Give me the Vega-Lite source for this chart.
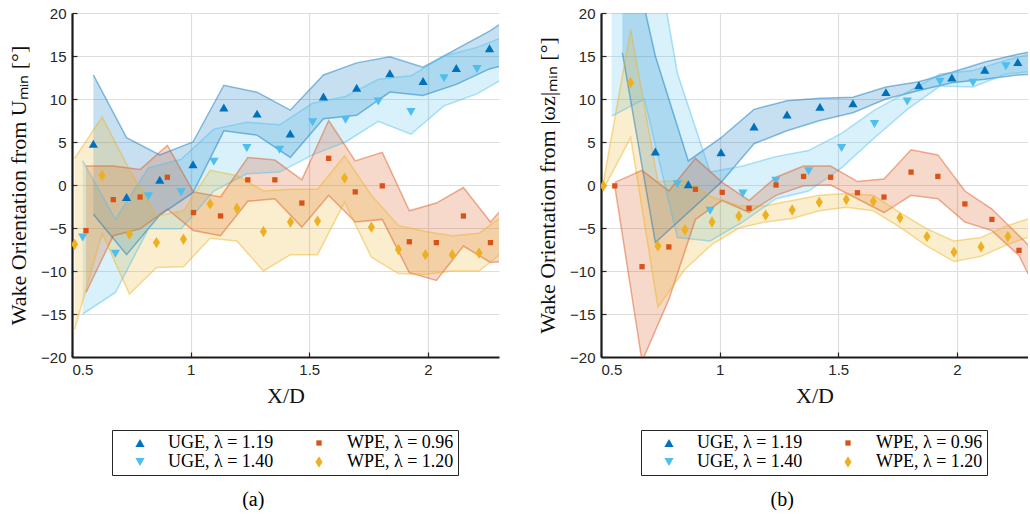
{
  "$schema": "https://vega.github.io/schema/vega-lite/v6.json",
  "padding": {"left": 7, "top": 6, "right": 0, "bottom": 0},
  "autosize": {"type": "pad"},
  "spacing": 37,
  "resolve": {"scale": {"color": "independent", "shape": "independent", "size": "independent"}, "legend": {"color": "independent", "shape": "independent", "size": "independent"}},
  "datasets": {
    "a": [
      {"s":"UGE, λ = 1.19","x":0.59,"y":4.8,"lo":-3.4,"hi":12.8},
      {"s":"UGE, λ = 1.19","x":0.73,"y":-1.4,"lo":-8.1,"hi":5.5},
      {"s":"UGE, λ = 1.19","x":0.87,"y":0.6,"lo":-3.5,"hi":3.5},
      {"s":"UGE, λ = 1.19","x":1.01,"y":2.4,"lo":-0.9,"hi":5.0},
      {"s":"UGE, λ = 1.19","x":1.14,"y":9.0,"lo":6.3,"hi":11.6},
      {"s":"UGE, λ = 1.19","x":1.28,"y":8.3,"lo":5.8,"hi":10.8},
      {"s":"UGE, λ = 1.19","x":1.42,"y":6.0,"lo":3.2,"hi":8.7},
      {"s":"UGE, λ = 1.19","x":1.56,"y":10.3,"lo":7.7,"hi":12.8},
      {"s":"UGE, λ = 1.19","x":1.70,"y":11.3,"lo":8.1,"hi":14.2},
      {"s":"UGE, λ = 1.19","x":1.84,"y":13.0,"lo":10.8,"hi":14.9},
      {"s":"UGE, λ = 1.19","x":1.98,"y":12.1,"lo":10.4,"hi":13.7},
      {"s":"UGE, λ = 1.19","x":2.12,"y":13.6,"lo":11.7,"hi":15.8},
      {"s":"UGE, λ = 1.19","x":2.26,"y":15.9,"lo":13.5,"hi":17.9},
      {"s":"UGE, λ = 1.19","x":2.40,"y":null,"lo":14.5,"hi":20.4},
      {"s":"UGE, λ = 1.40","x":0.545,"y":-6.1,"lo":-15.0,"hi":2.8},
      {"s":"UGE, λ = 1.40","x":0.683,"y":-8.0,"lo":-12.5,"hi":-4.0},
      {"s":"UGE, λ = 1.40","x":0.822,"y":-1.3,"lo":-5.1,"hi":2.0},
      {"s":"UGE, λ = 1.40","x":0.96,"y":-0.85,"lo":-5.1,"hi":3.0},
      {"s":"UGE, λ = 1.40","x":1.098,"y":2.7,"lo":-0.7,"hi":6.5},
      {"s":"UGE, λ = 1.40","x":1.237,"y":4.3,"lo":1.3,"hi":7.3},
      {"s":"UGE, λ = 1.40","x":1.375,"y":4.1,"lo":1.5,"hi":7.0},
      {"s":"UGE, λ = 1.40","x":1.514,"y":7.3,"lo":3.5,"hi":9.5},
      {"s":"UGE, λ = 1.40","x":1.653,"y":7.6,"lo":5.0,"hi":10.3},
      {"s":"UGE, λ = 1.40","x":1.791,"y":9.7,"lo":7.4,"hi":12.3},
      {"s":"UGE, λ = 1.40","x":1.929,"y":8.5,"lo":5.9,"hi":12.7},
      {"s":"UGE, λ = 1.40","x":2.068,"y":12.4,"lo":9.2,"hi":15.0},
      {"s":"UGE, λ = 1.40","x":2.207,"y":13.5,"lo":10.6,"hi":16.0},
      {"s":"UGE, λ = 1.40","x":2.345,"y":null,"lo":12.8,"hi":17.5},
      {"s":"WPE, λ = 0.96","x":0.559,"y":-5.3,"lo":-12.5,"hi":2.2},
      {"s":"WPE, λ = 0.96","x":0.674,"y":-1.7,"lo":-5.9,"hi":2.2},
      {"s":"WPE, λ = 0.96","x":0.787,"y":-1.4,"lo":-5.1,"hi":1.8},
      {"s":"WPE, λ = 0.96","x":0.902,"y":0.9,"lo":-2.8,"hi":4.6},
      {"s":"WPE, λ = 0.96","x":1.012,"y":-3.2,"lo":-5.3,"hi":-0.8},
      {"s":"WPE, λ = 0.96","x":1.126,"y":-3.6,"lo":-5.9,"hi":-1.4},
      {"s":"WPE, λ = 0.96","x":1.241,"y":0.6,"lo":-1.9,"hi":3.2},
      {"s":"WPE, λ = 0.96","x":1.355,"y":0.6,"lo":-1.6,"hi":2.9},
      {"s":"WPE, λ = 0.96","x":1.469,"y":-2.1,"lo":-4.9,"hi":0.6},
      {"s":"WPE, λ = 0.96","x":1.582,"y":3.1,"lo":-1.2,"hi":7.5},
      {"s":"WPE, λ = 0.96","x":1.694,"y":-0.8,"lo":-4.3,"hi":2.8},
      {"s":"WPE, λ = 0.96","x":1.808,"y":-0.1,"lo":-4.0,"hi":3.8},
      {"s":"WPE, λ = 0.96","x":1.922,"y":-6.6,"lo":-10.2,"hi":-3.0},
      {"s":"WPE, λ = 0.96","x":2.036,"y":-6.7,"lo":-11.1,"hi":-2.1},
      {"s":"WPE, λ = 0.96","x":2.15,"y":-3.6,"lo":-7.1,"hi":-0.3},
      {"s":"WPE, λ = 0.96","x":2.264,"y":-6.7,"lo":-9.0,"hi":-4.3},
      {"s":"WPE, λ = 0.96","x":2.378,"y":null,"lo":-8.8,"hi":-0.8},
      {"s":"WPE, λ = 1.20","x":0.511,"y":-6.9,"lo":-16.8,"hi":3.1},
      {"s":"WPE, λ = 1.20","x":0.627,"y":1.1,"lo":-5.6,"hi":7.9},
      {"s":"WPE, λ = 1.20","x":0.742,"y":-5.7,"lo":-12.7,"hi":1.8},
      {"s":"WPE, λ = 1.20","x":0.856,"y":-6.7,"lo":-9.6,"hi":-3.6},
      {"s":"WPE, λ = 1.20","x":0.97,"y":-6.3,"lo":-9.5,"hi":-3.0},
      {"s":"WPE, λ = 1.20","x":1.082,"y":-2.2,"lo":-6.2,"hi":1.7},
      {"s":"WPE, λ = 1.20","x":1.195,"y":-2.7,"lo":-6.5,"hi":1.1},
      {"s":"WPE, λ = 1.20","x":1.307,"y":-5.4,"lo":-10.0,"hi":-0.7},
      {"s":"WPE, λ = 1.20","x":1.421,"y":-4.3,"lo":-8.1,"hi":-0.5},
      {"s":"WPE, λ = 1.20","x":1.535,"y":-4.2,"lo":-8.1,"hi":-0.5},
      {"s":"WPE, λ = 1.20","x":1.649,"y":0.8,"lo":-2.0,"hi":3.4},
      {"s":"WPE, λ = 1.20","x":1.762,"y":-4.9,"lo":-8.4,"hi":-1.2},
      {"s":"WPE, λ = 1.20","x":1.876,"y":-7.5,"lo":-10.3,"hi":-4.7},
      {"s":"WPE, λ = 1.20","x":1.99,"y":-8.1,"lo":-10.4,"hi":-5.4},
      {"s":"WPE, λ = 1.20","x":2.103,"y":-8.1,"lo":-10.0,"hi":-5.9},
      {"s":"WPE, λ = 1.20","x":2.216,"y":-7.9,"lo":-10.0,"hi":-5.6},
      {"s":"WPE, λ = 1.20","x":2.33,"y":null,"lo":-7.5,"hi":-3.3}
    ],
    "b": [
      {"s":"UGE, λ = 1.19","x":0.59,"y":null,"lo":15.4,"hi":32},
      {"s":"UGE, λ = 1.19","x":0.729,"y":3.9,"lo":-6.7,"hi":15.0},
      {"s":"UGE, λ = 1.19","x":0.868,"y":0.1,"lo":-3.2,"hi":2.8},
      {"s":"UGE, λ = 1.19","x":1.006,"y":3.8,"lo":0.3,"hi":5.5},
      {"s":"UGE, λ = 1.19","x":1.145,"y":6.8,"lo":4.8,"hi":8.8},
      {"s":"UGE, λ = 1.19","x":1.284,"y":8.2,"lo":6.3,"hi":9.8},
      {"s":"UGE, λ = 1.19","x":1.423,"y":9.1,"lo":7.5,"hi":10.1},
      {"s":"UGE, λ = 1.19","x":1.562,"y":9.5,"lo":8.4,"hi":10.2},
      {"s":"UGE, λ = 1.19","x":1.701,"y":10.8,"lo":10.0,"hi":11.4},
      {"s":"UGE, λ = 1.19","x":1.84,"y":11.6,"lo":11.0,"hi":12.0},
      {"s":"UGE, λ = 1.19","x":1.979,"y":12.5,"lo":11.9,"hi":13.1},
      {"s":"UGE, λ = 1.19","x":2.118,"y":13.4,"lo":12.3,"hi":14.3},
      {"s":"UGE, λ = 1.19","x":2.257,"y":14.3,"lo":12.8,"hi":15.2},
      {"s":"UGE, λ = 1.19","x":2.396,"y":null,"lo":13.0,"hi":16.0},
      {"s":"UGE, λ = 1.40","x":0.545,"y":null,"lo":8.0,"hi":30},
      {"s":"UGE, λ = 1.40","x":0.683,"y":null,"lo":10.0,"hi":35},
      {"s":"UGE, λ = 1.40","x":0.822,"y":0.1,"lo":-6.1,"hi":13.0},
      {"s":"UGE, λ = 1.40","x":0.96,"y":-3.0,"lo":-6.5,"hi":1.5},
      {"s":"UGE, λ = 1.40","x":1.098,"y":-1.0,"lo":-4.3,"hi":2.2},
      {"s":"UGE, λ = 1.40","x":1.237,"y":0.5,"lo":-1.6,"hi":3.3},
      {"s":"UGE, λ = 1.40","x":1.375,"y":1.6,"lo":-0.7,"hi":4.0},
      {"s":"UGE, λ = 1.40","x":1.514,"y":4.3,"lo":2.0,"hi":6.0},
      {"s":"UGE, λ = 1.40","x":1.653,"y":7.1,"lo":5.5,"hi":8.7},
      {"s":"UGE, λ = 1.40","x":1.791,"y":9.7,"lo":8.8,"hi":10.8},
      {"s":"UGE, λ = 1.40","x":1.929,"y":12.0,"lo":11.5,"hi":12.9},
      {"s":"UGE, λ = 1.40","x":2.068,"y":11.9,"lo":11.4,"hi":13.3},
      {"s":"UGE, λ = 1.40","x":2.207,"y":13.8,"lo":12.9,"hi":14.5},
      {"s":"UGE, λ = 1.40","x":2.345,"y":null,"lo":13.3,"hi":15.5},
      {"s":"WPE, λ = 0.96","x":0.558,"y":-0.1,"lo":-0.1,"hi":0.3},
      {"s":"WPE, λ = 0.96","x":0.673,"y":-9.5,"lo":-20.5,"hi":1.7},
      {"s":"WPE, λ = 0.96","x":0.786,"y":-7.2,"lo":-13.3,"hi":-0.7},
      {"s":"WPE, λ = 0.96","x":0.898,"y":-0.5,"lo":-4.0,"hi":3.1},
      {"s":"WPE, λ = 0.96","x":1.011,"y":-0.85,"lo":-1.8,"hi":0.3},
      {"s":"WPE, λ = 0.96","x":1.124,"y":-2.7,"lo":-3.2,"hi":-1.8},
      {"s":"WPE, λ = 0.96","x":1.238,"y":0.0,"lo":-1.2,"hi":0.9},
      {"s":"WPE, λ = 0.96","x":1.354,"y":1.0,"lo":-0.1,"hi":2.2},
      {"s":"WPE, λ = 0.96","x":1.468,"y":0.9,"lo":0.0,"hi":2.2},
      {"s":"WPE, λ = 0.96","x":1.581,"y":-0.9,"lo":-1.6,"hi":0.4},
      {"s":"WPE, λ = 0.96","x":1.693,"y":-1.4,"lo":-3.2,"hi":0.7},
      {"s":"WPE, λ = 0.96","x":1.807,"y":1.5,"lo":-1.2,"hi":4.1},
      {"s":"WPE, λ = 0.96","x":1.92,"y":1.0,"lo":-1.6,"hi":3.5},
      {"s":"WPE, λ = 0.96","x":2.034,"y":-2.2,"lo":-4.3,"hi":-0.7},
      {"s":"WPE, λ = 0.96","x":2.148,"y":-4.0,"lo":-5.3,"hi":-2.8},
      {"s":"WPE, λ = 0.96","x":2.262,"y":-7.6,"lo":-8.2,"hi":-5.9},
      {"s":"WPE, λ = 0.96","x":2.376,"y":null,"lo":-14.5,"hi":-9.0},
      {"s":"WPE, λ = 1.20","x":0.51,"y":-0.1,"lo":-0.5,"hi":0.3},
      {"s":"WPE, λ = 1.20","x":0.625,"y":11.9,"lo":5.5,"hi":18.1},
      {"s":"WPE, λ = 1.20","x":0.74,"y":-7.1,"lo":-14.2,"hi":0.4},
      {"s":"WPE, λ = 1.20","x":0.854,"y":-5.2,"lo":-9.8,"hi":0.5},
      {"s":"WPE, λ = 1.20","x":0.968,"y":-4.3,"lo":-6.9,"hi":-1.4},
      {"s":"WPE, λ = 1.20","x":1.081,"y":-3.6,"lo":-5.0,"hi":-2.4},
      {"s":"WPE, λ = 1.20","x":1.194,"y":-3.5,"lo":-4.3,"hi":-2.4},
      {"s":"WPE, λ = 1.20","x":1.306,"y":-2.9,"lo":-3.9,"hi":-1.8},
      {"s":"WPE, λ = 1.20","x":1.42,"y":-2.0,"lo":-3.0,"hi":-1.2},
      {"s":"WPE, λ = 1.20","x":1.534,"y":-1.7,"lo":-2.6,"hi":-1.0},
      {"s":"WPE, λ = 1.20","x":1.648,"y":-1.9,"lo":-3.0,"hi":-1.2},
      {"s":"WPE, λ = 1.20","x":1.76,"y":-3.8,"lo":-4.9,"hi":-3.2},
      {"s":"WPE, λ = 1.20","x":1.874,"y":-6.0,"lo":-7.1,"hi":-5.1},
      {"s":"WPE, λ = 1.20","x":1.988,"y":-7.8,"lo":-8.9,"hi":-6.5},
      {"s":"WPE, λ = 1.20","x":2.102,"y":-7.2,"lo":-8.3,"hi":-6.1},
      {"s":"WPE, λ = 1.20","x":2.215,"y":-6.0,"lo":-6.9,"hi":-4.7},
      {"s":"WPE, λ = 1.20","x":2.329,"y":null,"lo":-5.8,"hi":-3.7}
    ]
  },
  "config": {
    "view": {"stroke": null},
    "font": "Liberation Sans",
    "axis": {
      "labelFont": "Liberation Sans", "labelFontSize": 15, "labelColor": "#262626",
      "titleFont": "Liberation Serif", "titleFontSize": 22, "titleFontWeight": "normal", "titleColor": "#111111",
      "domain": true, "domainColor": "#262626", "domainWidth": 2,
      "tickColor": "#262626", "tickSize": -5, "tickWidth": 1.2,
      "gridColor": "#dedede", "gridWidth": 1.2, "zindex": 1
    },
    "axisX": {"labelPadding": 10, "titlePadding": 8},
    "axisY": {"labelPadding": 11, "titlePadding": 10},
    "legend": {
      "labelFont": "Liberation Serif", "labelFontSize": 18, "labelColor": "#000000",
      "strokeColor": "#262626", "fillColor": "#ffffff", "padding": 4,
      "rowPadding": 1, "columnPadding": 21, "symbolOffset": 15, "labelOffset": 19,
      "symbolStrokeWidth": 0, "labelLimit": 300
    },
    "title": {"font": "Liberation Serif", "fontSize": 20, "fontWeight": "normal", "color": "#000000"}
  },
  "hconcat": [
    {
      "width": 427, "height": 344,
      "data": {"name": "a"},
      "title": {"text": "(a)", "orient": "bottom", "anchor": "middle", "frame": "bounds", "offset": 14},
      "encoding": {
        "x": {"field": "x", "type": "quantitative", "scale": {"domain": [0.5, 2.3], "nice": false, "zero": false},
              "axis": {"values": [0.5, 1, 1.5, 2], "format": "~g", "title": "X/D", "domainColor": "#1a1a1a", "domainWidth": 2.2,
                       "gridColor": {"condition": {"test": "datum.value === 0.5", "value": "rgba(0,0,0,0)"}, "value": "#dedede"}}}
      },
      "layer": [
        {
          "mark": {"type": "area", "clip": true, "fillOpacity": 0.22},
          "encoding": {
            "y": {"field": "lo", "type": "quantitative", "scale": {"domain": [-20, 20], "nice": false, "zero": false},
                  "axis": {"values": [-20, -15, -10, -5, 0, 5, 10, 15, 20], "format": "d", "title": "Wake Orientation from Uₘᵢₙ [°]", "domainColor": "#1a1a1a", "domainWidth": 2.2,
                           "gridColor": {"condition": {"test": "datum.value === -20", "value": "rgba(0,0,0,0)"}, "value": "#dedede"}}},
            "y2": {"field": "hi"},
            "fill": {"field": "s", "type": "nominal", "legend": null,
                     "scale": {"domain": ["UGE, λ = 1.19", "WPE, λ = 0.96", "UGE, λ = 1.40", "WPE, λ = 1.20"], "range": ["#0072BD", "#D95319", "#4DBEEE", "#EDB120"]}}
          }
        },
        {
          "mark": {"type": "line", "clip": true, "strokeWidth": 1.5, "strokeOpacity": 0.45},
          "encoding": {
            "y": {"field": "lo", "type": "quantitative",
                  "axis": {"values": [-20, -15, -10, -5, 0, 5, 10, 15, 20], "format": "d", "title": "Wake Orientation from Uₘᵢₙ [°]", "domainColor": "#1a1a1a", "domainWidth": 2.2,
                           "gridColor": {"condition": {"test": "datum.value === -20", "value": "rgba(0,0,0,0)"}, "value": "#dedede"}}},
            "stroke": {"field": "s", "type": "nominal", "legend": null,
                     "scale": {"domain": ["UGE, λ = 1.19", "WPE, λ = 0.96", "UGE, λ = 1.40", "WPE, λ = 1.20"], "range": ["#0072BD", "#D95319", "#4DBEEE", "#EDB120"]}}
          }
        },
        {
          "mark": {"type": "line", "clip": true, "strokeWidth": 1.5, "strokeOpacity": 0.45},
          "encoding": {
            "y": {"field": "hi", "type": "quantitative",
                  "axis": {"values": [-20, -15, -10, -5, 0, 5, 10, 15, 20], "format": "d", "title": "Wake Orientation from Uₘᵢₙ [°]", "domainColor": "#1a1a1a", "domainWidth": 2.2,
                           "gridColor": {"condition": {"test": "datum.value === -20", "value": "rgba(0,0,0,0)"}, "value": "#dedede"}}},
            "stroke": {"field": "s", "type": "nominal", "legend": null,
                     "scale": {"domain": ["UGE, λ = 1.19", "WPE, λ = 0.96", "UGE, λ = 1.40", "WPE, λ = 1.20"], "range": ["#0072BD", "#D95319", "#4DBEEE", "#EDB120"]}}
          }
        },
        {
          "mark": {"type": "point", "filled": true, "opacity": 1, "clip": true},
          "encoding": {
            "y": {"field": "y", "type": "quantitative",
                  "axis": {"values": [-20, -15, -10, -5, 0, 5, 10, 15, 20], "format": "d", "title": "Wake Orientation from Uₘᵢₙ [°]", "domainColor": "#1a1a1a", "domainWidth": 2.2,
                           "gridColor": {"condition": {"test": "datum.value === -20", "value": "rgba(0,0,0,0)"}, "value": "#dedede"}}},
            "color": {"field": "s", "type": "nominal",
                      "scale": {"domain": ["UGE, λ = 1.19", "WPE, λ = 0.96", "UGE, λ = 1.40", "WPE, λ = 1.20"], "range": ["#0072BD", "#D95319", "#4DBEEE", "#EDB120"]},
                      "legend": {"orient": "none", "direction": "horizontal", "legendX": 40, "legendY": 417, "columns": 2, "title": null,
                                 "encode": {"symbols": {"update": {"size": {"signal": "datum.value === 'WPE, λ = 0.96' ? 30 : (datum.value === 'WPE, λ = 1.20' ? 120 : 85)"}}}}}},
            "shape": {"field": "s", "type": "nominal",
                      "scale": {"domain": ["UGE, λ = 1.19", "WPE, λ = 0.96", "UGE, λ = 1.40", "WPE, λ = 1.20"], "range": ["triangle-up", "square", "triangle-down", "M0,-1L0.62,0L0,1L-0.62,0Z"]},
                      "legend": {"orient": "none", "direction": "horizontal", "legendX": 40, "legendY": 417, "columns": 2, "title": null,
                                 "encode": {"symbols": {"update": {"size": {"signal": "datum.value === 'WPE, λ = 0.96' ? 30 : (datum.value === 'WPE, λ = 1.20' ? 120 : 85)"}}}}}},
            "size": {"field": "s", "type": "nominal",
                      "scale": {"type": "ordinal", "domain": ["UGE, λ = 1.19", "WPE, λ = 0.96", "UGE, λ = 1.40", "WPE, λ = 1.20"], "range": [85, 28, 85, 130]},
                      "legend": null}
          }
        }
      ]
    },
    {
      "width": 427, "height": 344,
      "data": {"name": "b"},
      "title": {"text": "(b)", "orient": "bottom", "anchor": "middle", "frame": "bounds", "offset": 14},
      "encoding": {
        "x": {"field": "x", "type": "quantitative", "scale": {"domain": [0.5, 2.3], "nice": false, "zero": false},
              "axis": {"values": [0.5, 1, 1.5, 2], "format": "~g", "title": "X/D", "domainColor": "#1a1a1a", "domainWidth": 2.2,
                       "gridColor": {"condition": {"test": "datum.value === 0.5", "value": "rgba(0,0,0,0)"}, "value": "#dedede"}}}
      },
      "layer": [
        {
          "mark": {"type": "area", "clip": true, "fillOpacity": 0.22},
          "encoding": {
            "y": {"field": "lo", "type": "quantitative", "scale": {"domain": [-20, 20], "nice": false, "zero": false},
                  "axis": {"values": [-20, -15, -10, -5, 0, 5, 10, 15, 20], "format": "d", "title": "Wake Orientation from |ωz|ₘᵢₙ [°]", "domainColor": "#1a1a1a", "domainWidth": 2.2,
                           "gridColor": {"condition": {"test": "datum.value === -20", "value": "rgba(0,0,0,0)"}, "value": "#dedede"}}},
            "y2": {"field": "hi"},
            "fill": {"field": "s", "type": "nominal", "legend": null,
                     "scale": {"domain": ["UGE, λ = 1.19", "WPE, λ = 0.96", "UGE, λ = 1.40", "WPE, λ = 1.20"], "range": ["#0072BD", "#D95319", "#4DBEEE", "#EDB120"]}}
          }
        },
        {
          "mark": {"type": "line", "clip": true, "strokeWidth": 1.5, "strokeOpacity": 0.45},
          "encoding": {
            "y": {"field": "lo", "type": "quantitative",
                  "axis": {"values": [-20, -15, -10, -5, 0, 5, 10, 15, 20], "format": "d", "title": "Wake Orientation from |ωz|ₘᵢₙ [°]", "domainColor": "#1a1a1a", "domainWidth": 2.2,
                           "gridColor": {"condition": {"test": "datum.value === -20", "value": "rgba(0,0,0,0)"}, "value": "#dedede"}}},
            "stroke": {"field": "s", "type": "nominal", "legend": null,
                     "scale": {"domain": ["UGE, λ = 1.19", "WPE, λ = 0.96", "UGE, λ = 1.40", "WPE, λ = 1.20"], "range": ["#0072BD", "#D95319", "#4DBEEE", "#EDB120"]}}
          }
        },
        {
          "mark": {"type": "line", "clip": true, "strokeWidth": 1.5, "strokeOpacity": 0.45},
          "encoding": {
            "y": {"field": "hi", "type": "quantitative",
                  "axis": {"values": [-20, -15, -10, -5, 0, 5, 10, 15, 20], "format": "d", "title": "Wake Orientation from |ωz|ₘᵢₙ [°]", "domainColor": "#1a1a1a", "domainWidth": 2.2,
                           "gridColor": {"condition": {"test": "datum.value === -20", "value": "rgba(0,0,0,0)"}, "value": "#dedede"}}},
            "stroke": {"field": "s", "type": "nominal", "legend": null,
                     "scale": {"domain": ["UGE, λ = 1.19", "WPE, λ = 0.96", "UGE, λ = 1.40", "WPE, λ = 1.20"], "range": ["#0072BD", "#D95319", "#4DBEEE", "#EDB120"]}}
          }
        },
        {
          "mark": {"type": "point", "filled": true, "opacity": 1, "clip": true},
          "encoding": {
            "y": {"field": "y", "type": "quantitative",
                  "axis": {"values": [-20, -15, -10, -5, 0, 5, 10, 15, 20], "format": "d", "title": "Wake Orientation from |ωz|ₘᵢₙ [°]", "domainColor": "#1a1a1a", "domainWidth": 2.2,
                           "gridColor": {"condition": {"test": "datum.value === -20", "value": "rgba(0,0,0,0)"}, "value": "#dedede"}}},
            "color": {"field": "s", "type": "nominal",
                      "scale": {"domain": ["UGE, λ = 1.19", "WPE, λ = 0.96", "UGE, λ = 1.40", "WPE, λ = 1.20"], "range": ["#0072BD", "#D95319", "#4DBEEE", "#EDB120"]},
                      "legend": {"orient": "none", "direction": "horizontal", "legendX": 40, "legendY": 417, "columns": 2, "title": null,
                                 "encode": {"symbols": {"update": {"size": {"signal": "datum.value === 'WPE, λ = 0.96' ? 30 : (datum.value === 'WPE, λ = 1.20' ? 120 : 85)"}}}}}},
            "shape": {"field": "s", "type": "nominal",
                      "scale": {"domain": ["UGE, λ = 1.19", "WPE, λ = 0.96", "UGE, λ = 1.40", "WPE, λ = 1.20"], "range": ["triangle-up", "square", "triangle-down", "M0,-1L0.62,0L0,1L-0.62,0Z"]},
                      "legend": {"orient": "none", "direction": "horizontal", "legendX": 40, "legendY": 417, "columns": 2, "title": null,
                                 "encode": {"symbols": {"update": {"size": {"signal": "datum.value === 'WPE, λ = 0.96' ? 30 : (datum.value === 'WPE, λ = 1.20' ? 120 : 85)"}}}}}},
            "size": {"field": "s", "type": "nominal",
                      "scale": {"type": "ordinal", "domain": ["UGE, λ = 1.19", "WPE, λ = 0.96", "UGE, λ = 1.40", "WPE, λ = 1.20"], "range": [85, 28, 85, 130]},
                      "legend": null}
          }
        }
      ]
    }
  ]
}
